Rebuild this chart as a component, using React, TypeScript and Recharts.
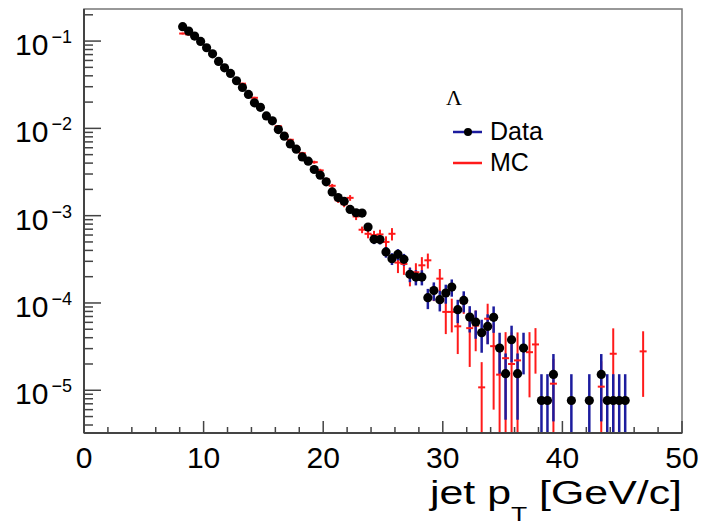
import React from "react";
import { ScatterChart, Scatter, XAxis, YAxis, ErrorBar, ReferenceArea, Legend } from "recharts";

// bin centres in GeV/c
const ptBins = [
  8.25, 8.75, 9.25, 9.75, 10.25, 10.75, 11.25, 11.75, 12.25, 12.75,
  13.25, 13.75, 14.25, 14.75, 15.25, 15.75, 16.25, 16.75, 17.25, 17.75,
  18.25, 18.75, 19.25, 19.75, 20.25, 20.75, 21.25, 21.75, 22.25, 22.75,
  23.25, 23.75, 24.25, 24.75, 25.25, 25.75, 26.25, 26.75, 27.25, 27.75,
  28.25, 28.75, 29.25, 29.75, 30.25, 30.75, 31.25, 31.75, 32.25, 32.75,
  33.25, 33.75, 34.25, 34.75, 35.25, 35.75, 36.25, 36.75, 37.25, 37.75,
  38.25, 38.75, 39.25, 39.75, 40.25, 40.75, 41.25, 41.75, 42.25, 42.75,
  43.25, 43.75, 44.25, 44.75, 45.25, 45.75, 46.25, 46.75,
];

const dataValues = [
  0.146, 0.13, 0.114, 0.099, 0.0838, 0.0715, 0.0585, 0.0494, 0.0426, 0.0351,
  0.0294, 0.0245, 0.0196, 0.0174, 0.0139, 0.0122, 0.0097, 0.00814, 0.00664, 0.00577,
  0.00471, 0.00421, 0.00338, 0.00291, 0.00244, 0.00187, 0.00161, 0.00146, 0.00118, 0.00108,
  0.00107, 7.41e-4, 5.36e-4, 5.32e-4, 3.84e-4, 3.22e-4, 3.61e-4, 3.16e-4, 2.13e-4, 1.98e-4,
  1.98e-4, 1.15e-4, 1.39e-4, 1.09e-4, 1.3e-4, 1.52e-4, 8.37e-5, 1.07e-4, 6.89e-5, 6.04e-5,
  4.56e-5, 5.39e-5, 6.84e-5, 3.04e-5, 1.55e-5, 3.79e-5, 1.55e-5, 3.04e-5, null, null,
  7.64e-6, 7.64e-6, 1.52e-5, null, null, 7.64e-6, null, null, 7.64e-6, null,
  1.52e-5, 7.64e-6, 7.64e-6, 7.64e-6, 7.64e-6, null, null, null,
];

const dataErrors = [
  1.06e-3, 9.97e-4, 9.33e-4, 8.7e-4, 8.0e-4, 7.39e-4, 6.69e-4, 6.14e-4, 5.7e-4, 5.18e-4,
  4.74e-4, 4.33e-4, 3.87e-4, 3.65e-4, 3.26e-4, 3.05e-4, 2.72e-4, 2.49e-4, 2.25e-4, 2.1e-4,
  1.9e-4, 1.79e-4, 1.61e-4, 1.49e-4, 1.37e-4, 1.2e-4, 1.11e-4, 1.06e-4, 9.5e-5, 9.1e-5,
  9.0e-5, 7.5e-5, 6.4e-5, 6.4e-5, 5.4e-5, 5.0e-5, 5.3e-5, 4.9e-5, 4.0e-5, 3.9e-5,
  3.9e-5, 3.0e-5, 3.3e-5, 2.9e-5, 3.2e-5, 3.4e-5, 2.5e-5, 2.9e-5, 2.3e-5, 2.15e-5,
  1.87e-5, 2.03e-5, 2.29e-5, 1.52e-5, 1.09e-5, 1.7e-5, 1.09e-5, 1.52e-5, null, null,
  7.64e-6, 7.64e-6, 1.08e-5, null, null, 7.64e-6, null, null, 7.64e-6, null,
  1.08e-5, 7.64e-6, 7.64e-6, 7.64e-6, 7.64e-6, null, null, null,
];

const mcValues = [
  0.122, 0.119, 0.11, 0.097, 0.083, 0.071, 0.059, 0.051, 0.043, 0.036,
  0.0325, 0.025, 0.0224, 0.0176, 0.0142, 0.0125, 0.0106, 0.0087, 0.0074, 0.0061,
  0.0052, 0.0043, 0.0041, 0.0033, 0.0026, 0.0022, 0.0015, 0.00135, 0.0016, 0.00098,
  6.9e-4, 6.2e-4, 6.0e-4, 6.1e-4, 5.0e-4, 6.2e-4, 2.9e-4, 2.8e-4, 2.05e-4, 2.25e-4,
  2.7e-4, 3.08e-4, 1.35e-4, 1.9e-4, 7.9e-5, 7.9e-5, 5.4e-5, 1.0e-4, 5.15e-5, 5.5e-5,
  1.08e-5, 6.6e-5, 3.2e-5, 1.51e-5, 2.33e-5, 2.0e-5, 2.2e-5, null, 2.73e-5, 3.35e-5,
  null, null, 1.19e-5, null, null, null, null, null, null, null,
  1.1e-5, null, 2.62e-5, null, null, null, null, 2.79e-5,
];

const mcErrors = [
  0.003, 0.003, 0.003, 0.0025, 0.002, 0.0018, 0.0015, 0.0013, 0.0011, 0.001,
  9e-4, 7e-4, 6e-4, 5e-4, 4e-4, 3.5e-4, 3e-4, 2.5e-4, 2.2e-4, 2e-4,
  1.8e-4, 1.6e-4, 1.6e-4, 1.4e-4, 1.2e-4, 1.1e-4, 1e-4, 1e-4, 1.2e-4, 9e-5,
  6e-5, 7e-5, 7e-5, 8e-5, 8e-5, 1e-4, 7e-5, 7e-5, 5e-5, 6e-5,
  6.5e-5, 6e-5, 3e-5, 5.5e-5, 3.5e-5, 3.3e-5, 2.8e-5, 2.5e-5, 3.3e-5, 2.7e-5,
  1.02e-5, 3.2e-5, 2.6e-5, 1.76e-5, 2.3e-5, 2.6e-5, 2.4e-5, null, 1.9e-5, 1.8e-5,
  null, null, 1.1e-5, null, null, null, null, null, null, null,
  1.05e-5, null, 2.5e-5, null, null, null, null, 1.95e-5,
];

const xTicks = [0, 2, 4, 6, 8, 10, 12, 14, 16, 18, 20, 22, 24, 26, 28, 30, 32, 34, 36, 38, 40, 42, 44, 46, 48, 50];
const yDecades = [1e-6, 1e-5, 1e-4, 1e-3, 1e-2, 1e-1];
const yMinor = [1, 2, 3, 4, 5, 6, 7, 8, 9];
const seriesNames = ["Data", "MC"];
const legendTitle = "\u039B";

const yMin = 3.24e-6;
const yMax = 0.233;
const font = "'Liberation Sans', Arial, Helvetica, sans-serif";
const axisColor = "#444";
const dataBlue = "#1c1c9e";
const mcRed = "#ff1a1a";

const yTicks = yDecades
  .flatMap((d) => yMinor.map((m) => +(m * d).toPrecision(3)))
  .filter((v) => v >= yMin && v <= yMax);

const dataRows = ptBins
  .map((pt, i) => ({ pt, val: dataValues[i], err: dataErrors[i] }))
  .filter((r) => r.val != null);
const mcRows = ptBins
  .map((pt, i) => ({ pt, val: mcValues[i], err: mcErrors[i] }))
  .filter((r) => r.val != null);

// like ROOT, cut the lower half of an error bar off at the frame
const errRange = (d: any) => {
  const p = d && d.payload ? d.payload : d;
  return [Math.min(p.err, p.val - yMin), p.err];
};

function XTick(props: any) {
  const { x, y, payload } = props;
  const v = payload.value;
  const major = v % 10 === 0;
  return (
    <g>
      <line x1={x} x2={x} y1={y} y2={y - (major ? 12 : 6)} stroke={axisColor} strokeWidth={1.5} />
      {major && (
        <text x={x} y={y + 35} textAnchor="middle" fontSize={30} fontFamily={font} fill="#000">
          {v}
        </text>
      )}
    </g>
  );
}

function YTick(props: any) {
  const { x, y, payload } = props;
  const lg = Math.log10(payload.value);
  const major = Math.abs(lg - Math.round(lg)) < 1e-6;
  return (
    <g>
      <line x1={x} x2={x + (major ? 17 : 9)} y1={y} y2={y} stroke={axisColor} strokeWidth={1.5} />
      {major && (
        <text x={x - 12} y={y + 14} textAnchor="end" fontFamily={font} fill="#000">
          <tspan fontSize={30}>10</tspan>
          <tspan fontSize={18} dy={-12} dx={3}>
            {"\u2212" + Math.abs(Math.round(lg))}
          </tspan>
        </text>
      )}
    </g>
  );
}

function AxisTitle(props: any) {
  const vb = props.viewBox;
  return (
    <text
      x={vb.x + vb.width}
      y={vb.y + 71}
      textAnchor="end"
      fontFamily={font}
      fill="#000"
      textLength={252}
      lengthAdjust="spacingAndGlyphs"
    >
      <tspan fontSize={34}>jet p</tspan>
      <tspan fontSize={21} dy={17}>T</tspan>
      <tspan fontSize={34} dy={-17}>{" [GeV/c]"}</tspan>
    </text>
  );
}

function DataDot(props: any) {
  const { cx, cy } = props;
  if (cx == null || cy == null) return null;
  return <circle cx={cx} cy={cy} r={4.6} fill="#000" />;
}

function McMark(props: any) {
  const { cx, cy } = props;
  if (cx == null || cy == null) return null;
  return <line x1={cx - 3.5} x2={cx + 3.5} y1={cy} y2={cy} stroke={mcRed} strokeWidth={2} />;
}

function LegendBox() {
  return (
    <svg width={130} height={100} style={{ overflow: "visible" }}>
      <text x={6} y={25} fontSize={22} fontFamily="'Liberation Serif', 'Times New Roman', serif" fill="#000">
        {legendTitle}
      </text>
      <line x1={13} x2={42} y1={52} y2={52} stroke={dataBlue} strokeWidth={2.5} />
      <circle cx={28} cy={52} r={4} fill="#000" />
      <text x={50} y={60} fontSize={25} fontFamily={font} fill="#000">
        {seriesNames[0]}
      </text>
      <line x1={13} x2={42} y1={83} y2={83} stroke={mcRed} strokeWidth={2.5} />
      <text x={50} y={91} fontSize={25} fontFamily={font} fill="#000">
        {seriesNames[1]}
      </text>
    </svg>
  );
}

export default function App() {
  return (
    <div style={{ position: "absolute", left: 0, top: 0, background: "#fff" }}>
      <ScatterChart width={702} height={524} margin={{ top: 9, right: 20, left: 0, bottom: 0 }}>
        <XAxis
          dataKey="pt"
          type="number"
          domain={[0, 50]}
          allowDataOverflow
          ticks={xTicks}
          interval={0}
          tickSize={0}
          tickMargin={0}
          tickLine={false}
          tick={<XTick />}
          height={91}
          axisLine={{ stroke: axisColor, strokeWidth: 2 }}
          label={{ content: <AxisTitle /> }}
        />
        <YAxis
          dataKey="val"
          type="number"
          scale="log"
          domain={[yMin, yMax]}
          allowDataOverflow
          ticks={yTicks}
          interval={0}
          tickSize={0}
          tickMargin={0}
          tickLine={false}
          tick={<YTick />}
          width={84}
          axisLine={{ stroke: axisColor, strokeWidth: 2 }}
        />
        <ReferenceArea x1={0} x2={50} y1={yMin} y2={yMax} fill="none" stroke="#777" strokeWidth={1.5} />
        <Legend
          layout="vertical"
          align="center"
          verticalAlign="middle"
          wrapperStyle={{ left: 440, top: 80, width: 130, height: 100 }}
          content={() => <LegendBox />}
        />
        <Scatter name="MC" data={mcRows} shape={<McMark />} isAnimationActive={false}>
          <ErrorBar dataKey={errRange} direction="y" width={0} stroke={mcRed} strokeWidth={2} isAnimationActive={false} />
        </Scatter>
        <Scatter name="Data" data={dataRows} shape={<DataDot />} isAnimationActive={false}>
          <ErrorBar dataKey={errRange} direction="y" width={0} stroke={dataBlue} strokeWidth={2.5} isAnimationActive={false} />
        </Scatter>
      </ScatterChart>
    </div>
  );
}
